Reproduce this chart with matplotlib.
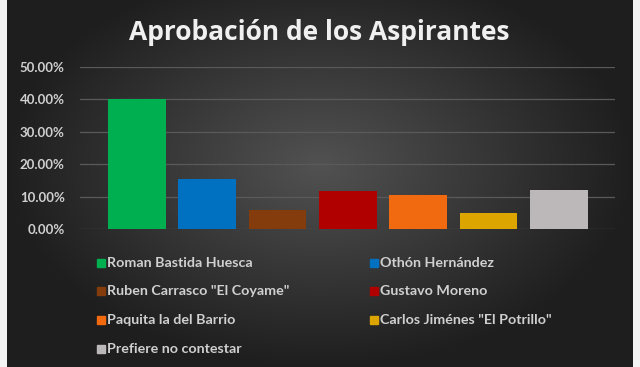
import numpy as np
from matplotlib import pyplot as plt
from matplotlib.patches import Rectangle

# data
candidatos = ['Roman Bastida Huesca', 'Othón Hernández', 'Ruben Carrasco "El Coyame"',
              'Gustavo Moreno', 'Paquita la del Barrio', 'Carlos Jiménes "El Potrillo"',
              'Prefiere no contestar']
aprobacion = [40.0, 15.4, 6.0, 11.7, 10.5, 4.8, 12.0]
colores = ['#00b050', '#0070c0', '#843c0c', '#b00000', '#f26a10', '#dca500', '#bcb8ba']
yticks = [0, 10, 20, 30, 40, 50]

fig = plt.figure(figsize=(6.4, 3.67), dpi=100)
fig.patch.set_facecolor('#f4f4f4')

# dark radial gradient panel
bg = fig.add_axes([7 / 640, 0, 626 / 640, 1])
gx, gy = np.meshgrid(np.linspace(-1, 1, 300), np.linspace(-1, 1, 200))
r = np.sqrt((gx / 1.0) ** 2 + ((gy + 0.1) / 1.1) ** 2)
shade = np.clip(0.32 - 0.2 * r, 0.12, 0.34)
bg.imshow(np.dstack([shade] * 3), aspect='auto', extent=[0, 1, 0, 1])
bg.set_axis_off()

ax = fig.add_axes([80 / 640, (367 - 229) / 367, 535 / 640, 162.3 / 367])
ax.patch.set_alpha(0)
x = np.arange(len(candidatos))
ax.bar(x, aprobacion, width=0.82, color=colores, zorder=3)
ax.set_xlim(-0.81, 6.80)
ax.set_ylim(0, 50)
ax.set_yticks(yticks)
ax.set_yticklabels([f'{v:.2f}%' for v in yticks], color='#d0d0d0',
                   fontsize=9.5, fontweight='bold', family='Lato')
ax.tick_params(axis='y', length=0, pad=11)
ax.set_xticks([])
ax.grid(axis='y', color='#5a5a5a', lw=0.9, zorder=0)
for s in ax.spines.values():
    s.set_visible(False)

fig.text(0.499, 1 - 33 / 367, 'Aprobación de los Aspirantes', ha='center', va='center',
         color='#f0f0f0', fontsize=19, fontweight='bold', family='Open Sans')

# legend, two columns filled row by row
for i, (nombre, c) in enumerate(zip(candidatos, colores)):
    col, row = i % 2, i // 2
    px = [97, 370][col]
    py = [263, 291, 320, 349][row]
    fig.patches.append(Rectangle((px / 640, 1 - (py + 4) / 367), 8 / 640, 8 / 367,
                                 transform=fig.transFigure, color=c))
    fig.text((px + 10) / 640, 1 - py / 367, nombre, ha='left', va='center',
             color='#d0d0d0', fontsize=10.3, fontweight='bold', family='Lato')

plt.savefig('out.png', dpi=100)
